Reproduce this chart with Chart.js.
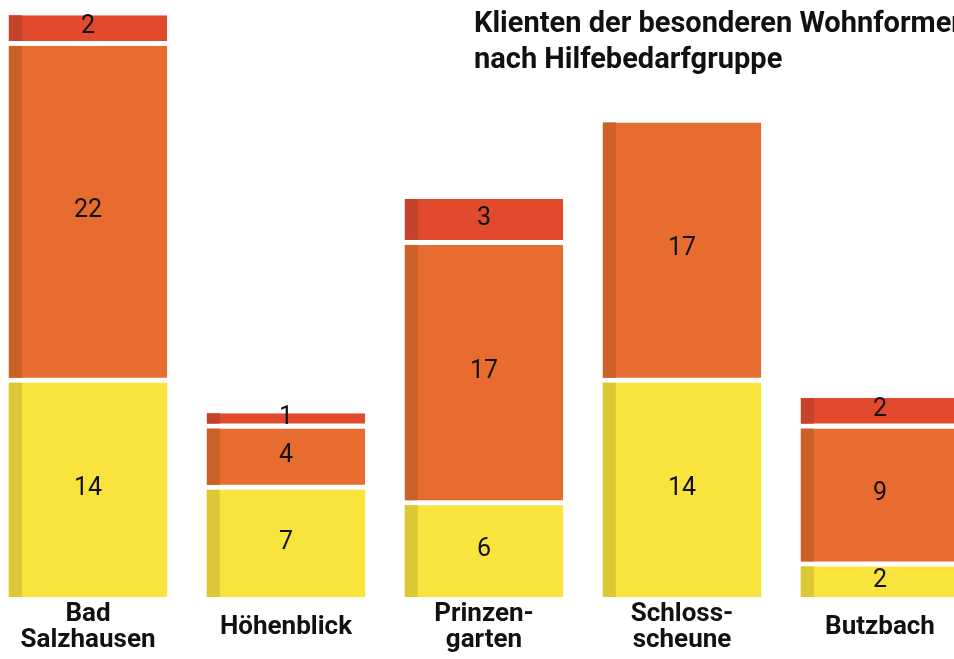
<!DOCTYPE html>
<html>
<head>
<meta charset="utf-8">
<script src="https://cdn.jsdelivr.net/npm/chart.js@4"></script>
<style>
  body { margin: 0; background: #fff; overflow: hidden; width: 954px; height: 659px; position: relative; }
  #wrap { position: absolute; left: -11px; top: 0; width: 990px; height: 683px; }
  #title {
    position: absolute; left: 474px; top: 4px; white-space: nowrap;
    font-family: Roboto, "Noto Sans", sans-serif; font-weight: bold;
    font-size: 29px; line-height: 36px; color: #111;
  }
</style>
</head>
<body>
<div id="wrap"><canvas id="myChart"></canvas></div>
<div id="title">Klienten der besonderen Wohnformen<br>nach Hilfebedarfgruppe</div>
<script>
  let categories = [["Bad", "Salzhausen"], "Höhenblick", ["Prinzen-", "garten"], ["Schloss-", "scheune"], "Butzbach"];
  let groupLow = [14, 7, 6, 14, 2];
  let groupMid = [22, 4, 17, 17, 9];
  let groupHigh = [2, 1, 3, null, 2];

  let fills = ["#f8e43c", "#e86c2f", "#e14a2d"];
  let sides = ["#dcc835", "#cc6029", "#c5432a"];
  let gapSize = 5;

  // darker left strip + value labels on each segment
  let sidePlugin = {
    id: "side",
    afterDatasetsDraw(chart) {
      let ctx = chart.ctx;
      chart.data.datasets.forEach(function (ds, i) {
        let meta = chart.getDatasetMeta(i);
        let gap = i === 0 ? 0 : gapSize;
        meta.data.forEach(function (bar, j) {
          let v = ds.data[j];
          if (!v) return;
          let left = bar.x - bar.width / 2;
          let top = bar.y;
          let bottom = bar.base - gap;
          ctx.save();
          ctx.fillStyle = sides[i];
          ctx.fillRect(left, top, 13, bottom - top);
          ctx.fillStyle = "#111";
          ctx.font = "25px Roboto";
          ctx.textAlign = "center";
          ctx.textBaseline = "middle";
          ctx.fillText(String(v), bar.x, (top + bottom) / 2 - 1);
          ctx.restore();
        });
      });
    },
  };

  function makeSet(label, data, i) {
    let gap = i === 0 ? 0 : gapSize;
    return {
      label: label,
      data: data,
      backgroundColor: fills[i],
      borderColor: "#ffffff",
      borderWidth: { top: 0, right: 0, left: 0, bottom: gap },
      borderSkipped: false,
      categoryPercentage: 0.8,
      barPercentage: 1.0,
    };
  }

  let ctx = document.getElementById("myChart").getContext("2d");
  let chart = new Chart(ctx, {
    type: "bar",
    data: {
      labels: categories,
      datasets: [
        makeSet("Gruppe 1", groupLow, 0),
        makeSet("Gruppe 2", groupMid, 1),
        makeSet("Gruppe 3", groupHigh, 2),
      ],
    },
    plugins: [sidePlugin],
    options: {
      responsive: true,
      maintainAspectRatio: false,
      animation: false,
      layout: { padding: { top: 0, left: 0, right: 0, bottom: 0 } },
      plugins: {
        legend: { display: false },
        tooltip: { enabled: false },
      },
      scales: {
        x: {
          stacked: true,
          grid: { display: false, drawTicks: false },
          border: { display: false },
          ticks: {
            autoSkip: false,
            maxRotation: 0,
            minRotation: 0,
            padding: 17,
            crossAlign: "center",
            color: "#111",
            font: { family: "Roboto", weight: "bold", size: 26, lineHeight: 1.0 },
          },
        },
        y: {
          stacked: true,
          display: false,
          min: 0,
          max: 39,
        },
      },
    },
  });
</script>
</body>
</html>
